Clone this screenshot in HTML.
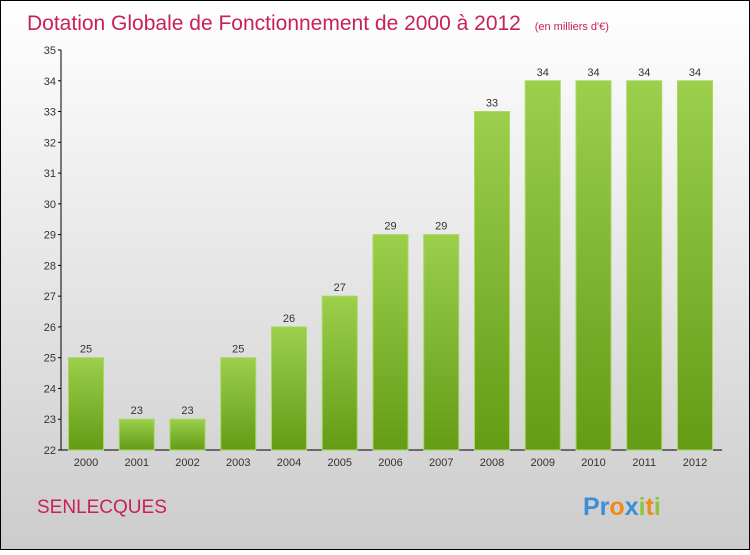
<!DOCTYPE html>
<html><head><meta charset="utf-8"><style>
html,body{margin:0;padding:0}
body{width:750px;height:550px;overflow:hidden;font-family:"Liberation Sans",sans-serif}
</style></head><body>
<svg width="750" height="550" xmlns="http://www.w3.org/2000/svg">
<defs>
<linearGradient id="bg" x1="0" y1="0" x2="0" y2="1"><stop offset="0" stop-color="#ffffff"/><stop offset="1" stop-color="#cccccc"/></linearGradient>
<linearGradient id="bar" x1="0" y1="0" x2="0" y2="1"><stop offset="0" stop-color="#9bcf4c"/><stop offset="1" stop-color="#649c16"/></linearGradient>
</defs>
<rect x="0.5" y="0.5" width="749" height="549" fill="url(#bg)" stroke="#000"/>
<text x="27" y="30" font-size="21" fill="#c8205a">Dotation Globale de Fonctionnement de 2000 à 2012 <tspan font-size="11" dx="8">(en milliers d'€)</tspan></text>
<g id="axes"></g>
<g id="bars"></g>
<text x="37" y="513" font-size="19" fill="#c8205a">SENLECQUES</text>
<g font-size="25" font-weight="bold">
<text x="583" y="515"><tspan fill="#3a8fd6">Pr</tspan><tspan fill="#f08a1c">o</tspan><tspan fill="#3a8fd6">x</tspan><tspan fill="#8cc63f">i</tspan><tspan fill="#f08a1c">t</tspan><tspan fill="#8cc63f">i</tspan></text>
</g>
</svg>
<script>
const categories=["2000","2001","2002","2003","2004","2005","2006","2007","2008","2009","2010","2011","2012"];
const values=[25,23,23,25,26,27,29,29,33,34,34,34,34];
const yTicks=[22,23,24,25,26,27,28,29,30,31,32,33,34,35];
const NS="http://www.w3.org/2000/svg";
const yMin=22,yMax=35,yTop=50,yBot=450;
function y(v){return yBot-(v-yMin)/(yMax-yMin)*(yBot-yTop);}
function x(i){return 86+i*50.75;}
function mk(t,a,p,txt){const e=document.createElementNS(NS,t);for(const k in a)e.setAttribute(k,a[k]);if(txt!=null)e.textContent=txt;p.appendChild(e);return e;}
const ax=document.getElementById('axes'),bs=document.getElementById('bars');
let l=mk('line',{x1:61,y1:yTop,x2:61,y2:yBot,stroke:'#000'},ax);


l=mk('line',{x1:61,y1:yBot,x2:722,y2:yBot,stroke:'#000'},ax);


yTicks.forEach(t=>{
 mk('line',{x1:58,y1:y(t),x2:61,y2:y(t),stroke:'#000'},ax);
 const e=mk('text',{x:56,y:y(t)+4,'font-size':11,fill:'#333','text-anchor':'end'},ax,t);
 
 
});
categories.forEach((c,i)=>{
 const r=mk('rect',{x:x(i)-17.5,y:y(values[i]),width:35,height:yBot-y(values[i]),fill:'url(#bar)',stroke:'#a8d860','stroke-width':1},bs);
 
 
 const v=mk('text',{x:x(i),y:y(values[i])-5,'font-size':11,fill:'#333','text-anchor':'middle'},bs,values[i]);
 
 
 const t=mk('text',{x:x(i),y:466,'font-size':11,fill:'#333','text-anchor':'middle'},bs,c);
 
 
});
</script>
</body></html>
